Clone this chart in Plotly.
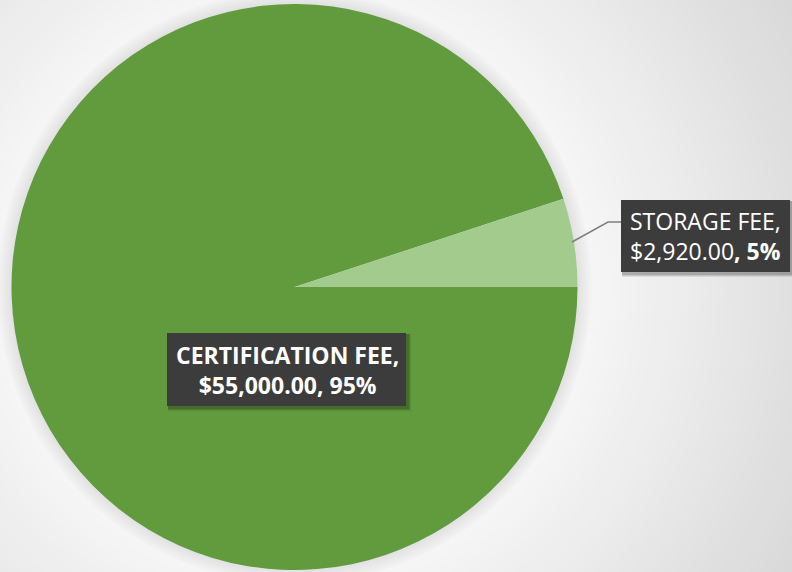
import plotly.graph_objects as go

categories = ["CERTIFICATION FEE", "STORAGE FEE"]
values = [55000.00, 2920.00]
colors = ["#629a3e", "#a3cb8d"]

total = sum(values)
pcts = [round(v / total * 100) for v in values]

W, H = 792, 572
CX, CY, R = 294.5, 287.0, 283.0


def px(x):
    return x / W


def py(y):
    return 1 - y / H


fig = go.Figure()
fig.add_trace(go.Pie(
    labels=categories,
    values=values,
    sort=False,
    direction="clockwise",
    rotation=90,
    marker=dict(colors=colors, line=dict(width=0)),
    textinfo="none",
    hoverinfo="label+value+percent",
    domain=dict(x=[px(CX - R), px(CX + R)], y=[py(CY + R), py(CY - R)]),
    showlegend=False,
))

shapes = []
# radial background gradient (outer gray -> white near pie)
r_out, r_in = 600, 298
steps = 34
for i in range(steps + 1):
    r = r_out - (r_out - r_in) * i / steps
    g = int(round(214 + (246 - 214) * i / steps))
    col = f"rgb({g},{g},{g})"
    shapes.append(dict(type="circle", xref="paper", yref="paper", layer="below",
                       x0=px(CX - r), x1=px(CX + r), y0=py(CY + r), y1=py(CY - r),
                       fillcolor=col, line=dict(width=0)))
# soft shadow ring around the pie
for k in range(16, -1, -1):
    r = R + k
    g = int(round(224 + (246 - 224) * k / 16))
    col = f"rgb({g},{g},{g})"
    shapes.append(dict(type="circle", xref="paper", yref="paper", layer="below",
                       x0=px(CX - r), x1=px(CX + r), y0=py(CY + r), y1=py(CY - r),
                       fillcolor=col, line=dict(width=0)))

# label boxes with soft drop shadows
boxes = [(621, 200, 790, 272), (167, 333, 406, 406)]
for (x0, y0, x1, y1) in boxes:
    for s, a in [(5, 0.08), (4, 0.10), (3, 0.14)]:
        shapes.append(dict(type="rect", xref="paper", yref="paper", layer="above",
                           x0=px(x0 + 1), x1=px(x1 + s), y0=py(y1 + s), y1=py(y0 + 1),
                           fillcolor=f"rgba(0,0,0,{a})", line=dict(width=0)))
    shapes.append(dict(type="rect", xref="paper", yref="paper", layer="above",
                       x0=px(x0), x1=px(x1), y0=py(y1), y1=py(y0),
                       fillcolor="#3c3c3c", line=dict(width=0)))

# leader line
shapes.append(dict(type="path", xref="paper", yref="paper", layer="above",
                   path=f"M {px(572)},{py(242)} L {px(608)},{py(222)} L {px(621)},{py(222)}",
                   line=dict(color="#7f7f7f", width=1.5)))

font_family = "Open Sans, Noto Sans, sans-serif"

fig.add_annotation(
    x=px(628), y=py(236.5), xref="paper", yref="paper",
    text=f"{categories[1]},<br>${values[1]:,.2f}<b>, {pcts[1]}%</b>",
    showarrow=False, align="left",
    font=dict(family=font_family, size=23, color="white"),
    xanchor="left", yanchor="middle",
)
fig.add_annotation(
    x=px(287), y=py(369.5), xref="paper", yref="paper",
    text=f"<b>{categories[0]},<br>${values[0]:,.2f}, {pcts[0]}%</b>",
    showarrow=False, align="center",
    font=dict(family=font_family, size=23, color="white"),
    xanchor="center", yanchor="middle",
)

fig.update_layout(
    width=W, height=H,
    margin=dict(l=0, r=0, t=0, b=0),
    paper_bgcolor="rgb(214,214,214)",
    plot_bgcolor="rgba(0,0,0,0)",
    shapes=shapes,
)

fig.write_html("out.html", config={"displayModeBar": False},
               post_script="document.body.style.margin='0';")
